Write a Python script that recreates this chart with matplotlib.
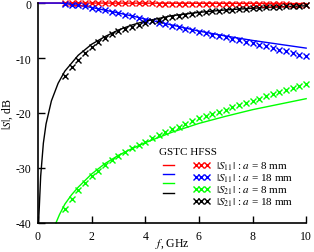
import matplotlib
matplotlib.use("Agg")
import matplotlib.pyplot as plt
from matplotlib.lines import Line2D

plt.rcParams['font.family'] = 'serif'
plt.rcParams['font.serif'] = ['Liberation Serif', 'DejaVu Serif']
plt.rcParams['mathtext.fontset'] = 'stix'
plt.rcParams['axes.unicode_minus'] = False

# HFSS samples (markers)
f_hfss = [1.0, 1.25, 1.5, 1.75, 2.0, 2.25, 2.5, 2.75, 3.0, 3.25, 3.5, 3.75,
          4.0, 4.25, 4.5, 4.75, 5.0, 5.25, 5.5, 5.75, 6.0, 6.25, 6.5, 6.75,
          7.0, 7.25, 7.5, 7.75, 8.0, 8.25, 8.5, 8.75, 9.0, 9.25, 9.5, 9.75, 10.0]
s11_8_hfss = [-0.02, -0.02, -0.03, -0.03, -0.04, -0.04, -0.05, -0.05, -0.06, -0.06,
              -0.07, -0.07, -0.08, -0.08, -0.09, -0.1, -0.1, -0.11, -0.12, -0.12,
              -0.13, -0.14, -0.15, -0.15, -0.16, -0.17, -0.18, -0.19, -0.2, -0.21,
              -0.22, -0.23, -0.24, -0.25, -0.27, -0.28, -0.3]
s11_18_hfss = [-0.15, -0.3, -0.42, -0.6, -0.85, -1.05, -1.3, -1.55, -1.85, -2.1,
               -2.4, -2.7, -3.0, -3.25, -3.55, -3.8, -4.1, -4.35, -4.65, -4.9,
               -5.2, -5.45, -5.75, -6.0, -6.25, -6.55, -6.8, -7.05, -7.3, -7.6,
               -7.9, -8.2, -8.5, -8.8, -9.1, -9.4, -9.7]
s21_8_hfss = [-37.5, -35.6, -34.0, -32.7, -31.5, -30.5, -29.5, -28.6, -27.8, -27.1,
              -26.4, -25.8, -25.2, -24.6, -24.0, -23.5, -23.0, -22.5, -22.0, -21.5,
              -21.0, -20.6, -20.2, -19.8, -19.4, -19.0, -18.6, -18.2, -17.8, -17.4,
              -17.0, -16.6, -16.2, -15.8, -15.4, -15.1, -14.8]
s21_18_hfss = [-13.2, -11.6, -10.3, -9.1, -8.0, -7.1, -6.3, -5.7, -5.1, -4.7,
               -4.3, -3.95, -3.6, -3.3, -3.0, -2.75, -2.5, -2.3, -2.1, -1.95,
               -1.8, -1.65, -1.5, -1.4, -1.3, -1.2, -1.1, -1.0, -0.95, -0.88,
               -0.8, -0.73, -0.67, -0.6, -0.53, -0.47, -0.4]

# GSTC curves (lines)
f_s11_8 = [0, 2, 4, 6, 8, 10]
s11_8_gstc = [0, 0, -0.02, -0.04, -0.07, -0.1]
f_s11_18 = [0, 0.8, 1.0, 1.5, 2.0, 2.5, 3.0, 4.0, 5.0, 6.0, 7.0, 8.0, 9.0, 10.0]
s11_18_gstc = [0, 0, -0.1, -0.4, -0.8, -1.3, -1.8, -2.9, -4.0, -5.1, -6.0, -6.8, -7.5, -8.2]
f_s21_8 = [0.67, 0.8, 1.0, 1.25, 1.5, 2.0, 2.5, 3.0, 3.5, 4.0, 5.0, 6.0, 7.0, 8.0, 9.0, 10.0]
s21_8_gstc = [-40, -38.5, -36.6, -34.9, -33.5, -31.1, -29.2, -27.7, -26.5, -25.4,
              -23.5, -21.9, -20.6, -19.4, -18.4, -17.4]
f_s21_18 = [0.02, 0.05, 0.1, 0.2, 0.3, 0.5, 0.75, 1.0, 1.5, 2.0, 2.5, 3.0, 3.5, 4.0,
            5.0, 6.0, 7.0, 8.0, 9.0, 10.0]
s21_18_gstc = [-40, -37, -31.5, -25.5, -22, -17.8, -14.6, -12.4, -9.5, -7.5, -6.1,
               -4.9, -4.0, -3.3, -2.3, -1.7, -1.25, -0.95, -0.7, -0.5]

labels = [r'$|S_{11}|$ : $a$ = 8 mm', r'$|S_{11}|$ : $a$ = 18 mm',
          r'$|S_{21}|$ : $a$ = 8 mm', r'$|S_{21}|$ : $a$ = 18 mm']
colors = ['#ff0000', '#0000ff', '#00ff00', '#000000']

fig = plt.figure(figsize=(3.14, 2.53), dpi=100)
ax = fig.add_axes([0.121, 0.115, 0.854, 0.869])

gstc = [(f_s11_8, s11_8_gstc), (f_s11_18, s11_18_gstc),
        (f_s21_8, s21_8_gstc), (f_s21_18, s21_18_gstc)]
hfss = [s11_8_hfss, s11_18_hfss, s21_8_hfss, s21_18_hfss]

for (fx, fy), c in zip(gstc, colors):
    ax.plot(fx, fy, color=c, lw=1.0, clip_on=False, zorder=2)
for vals, c in zip(hfss, colors):
    ax.plot(f_hfss, vals, ls='none', marker='x', ms=4.4, mew=1.0, color=c,
            clip_on=False, zorder=3)

ax.set_xlim(0, 10)
ax.set_ylim(-40, 0)
ax.set_xticks([0, 2, 4, 6, 8, 10])
ax.set_yticks([0, -10, -20, -30, -40])
for s in ['top', 'right']:
    ax.spines[s].set_visible(False)
for s in ['left', 'bottom']:
    ax.spines[s].set_linewidth(1.2)
ax.tick_params(direction='in', length=5, width=1.0, labelsize=8.5, pad=5)
ax.set_xlabel(r'$f$, GHz', fontsize=8.5)
ax.set_ylabel(r'$|S|$, dB', fontsize=8.5)
ax.xaxis.set_label_coords(0.5, -0.062)
ax.yaxis.set_label_coords(-0.084, 0.5)

line_h = [Line2D([], [], color=c, lw=1.0) for c in colors]
mark_h = [Line2D([], [], color=c, ls='none', marker='x', ms=4.0, mew=1.0) for c in colors]
leg = ax.legend(line_h + mark_h, ['', '', '', ''] + labels, ncol=2,
                numpoints=3, loc='upper left', bbox_to_anchor=(0.452, 0.347),
                frameon=False, fontsize=8, title='GSTC HFSS', title_fontsize=8,
                alignment='left', handlelength=1.6, handletextpad=0.55,
                columnspacing=0.85, labelspacing=-0.05, borderpad=0.0,
                borderaxespad=0.0)
# a little more room between the legend title and its rows
leg._legend_box.sep = 3

fig.savefig('out.png', dpi=100)
